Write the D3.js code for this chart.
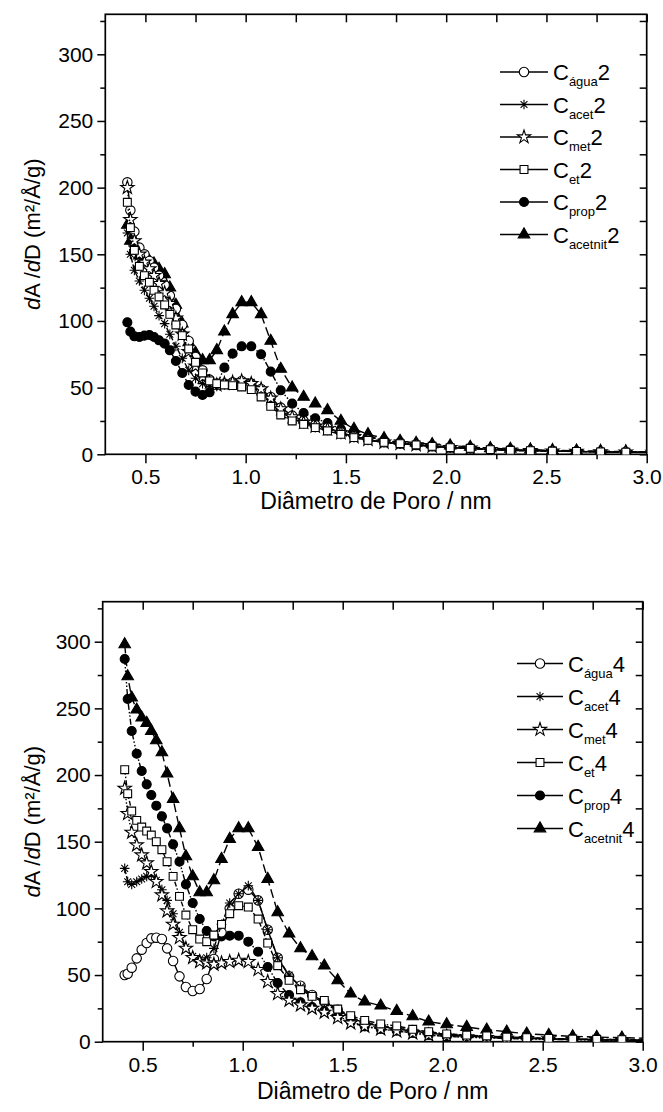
<!DOCTYPE html>
<html lang="pt">
<head>
<meta charset="utf-8">
<title>dA/dD</title>
<script src="https://d3js.org/d3.v7.min.js"></script>
<style>
  body { margin: 0; background: #fff; }
  svg { display: block; font-family: "Liberation Sans", Arial, sans-serif; }
  .axis path { display: none; }
  .axis line { stroke: #000; stroke-width: 1.5; }
  .axis text { fill: #000; font-size: 21px; }
</style>
</head>
<body>
<script>
/////////////// data ///////////////
var poreDiameter = [0.41, 0.425, 0.445, 0.47, 0.495, 0.52, 0.543, 0.568, 0.596, 0.622,
  0.652, 0.684, 0.716, 0.75, 0.785, 0.82, 0.856, 0.894, 0.935, 0.98,
  1.028, 1.077, 1.125, 1.175, 1.232, 1.289, 1.347, 1.408, 1.475, 1.54,
  1.61, 1.69, 1.77, 1.85, 1.93, 2.02, 2.12, 2.22, 2.32, 2.42,
  2.53, 2.65, 2.77, 2.896, 3.03];

// panel 1 (amostras 2)
var agua2 = [204, 183, 167, 155, 150, 145, 140, 134, 127, 119,
  109, 97, 85, 73, 63, 56, 53, 53, 54, 55,
  53, 49, 43, 35, 29, 25, 22, 20, 16.5, 13.5,
  11, 9, 8, 7, 6, 5, 4.5, 3.5, 3, 2.7,
  2.4, 2.1, 1.8, 1.6, 1.4];
var acet2 = [166, 150, 138, 130, 123, 117, 111, 104, 98, 90,
  81, 72, 63, 57, 53, 51, 51, 52, 53, 55,
  54, 49, 41, 33, 27, 23, 20, 18, 15, 12.5,
  10.5, 9, 8, 7, 6, 5, 4.5, 3.5, 3, 2.7,
  2.4, 2.1, 1.8, 1.6, 1.4];
var met2 = [200, 176, 160, 150, 144, 139, 134, 128, 121, 113,
  102, 90, 77, 66, 58, 54, 52, 53, 54, 55,
  53, 49, 42, 34, 28, 24, 21, 19, 16, 13,
  11, 9, 8, 7, 6, 5, 4.5, 3.5, 3, 2.7,
  2.4, 2.1, 1.8, 1.6, 1.4];
var et2 = [189, 170, 153, 141, 134, 129, 123, 118, 112, 105,
  97, 89, 79, 69, 61, 55, 53, 52, 51.5, 50.5,
  48.5, 43, 36, 29.5, 25, 22.5, 20, 17.5, 15, 12.5,
  10.5, 9, 8, 7, 6, 5, 4.5, 3.5, 3, 2.7,
  2.4, 2.1, 1.8, 1.6, 1.4];
var prop2 = [99, 92, 88.5, 88, 89, 89.5, 88, 85.5, 83, 78,
  70, 61, 52, 47, 44.5, 46.5, 52, 65, 75.5, 81,
  81, 75, 62, 48, 38, 31, 27, 23.5, 19, 16,
  13, 10.5, 9, 7.5, 6.5, 5.5, 4.5, 4, 3.5, 3,
  2.6, 2.3, 2, 1.8, 1.5];
var acetnit2 = [172, 160, 153, 149, 147, 145, 143, 139, 135, 125,
  112, 98, 84, 76, 70.5, 70.5, 78, 92, 105, 114,
  114, 105, 85, 64, 50, 43, 38, 33, 25, 19,
  15, 12, 10, 8.5, 7.5, 6.5, 5.5, 4.5, 4, 3.5,
  3, 2.7, 2.4, 2, 1.8];

// panel 2 (amostras 4)
var agua4 = [50, 51, 55.5, 62.5, 69, 74, 77.5, 78, 77, 70,
  60.5, 49, 41, 38, 39.5, 47, 62, 82, 100, 111,
  114, 106, 84, 63, 49, 42, 35, 30, 24, 18,
  14, 11.5, 9.5, 8, 6.5, 5, 4, 3.5, 3, 2.5,
  2, 1.8, 1.5, 1.2, 1];
var acet4 = [130, 120, 118, 120, 122, 124, 125, 121, 114, 106,
  96, 82, 71, 64, 62, 63, 70, 88, 104, 111,
  117, 106, 84, 63, 50, 41, 34, 29, 23, 18,
  14.5, 12, 10, 8.5, 7, 5.5, 4.5, 4, 3.5, 3,
  2.5, 2, 1.8, 1.5, 1.2];
var met4 = [190, 171, 157, 147.5, 140, 134, 127.5, 120, 110, 98,
  88, 78, 70, 63, 60, 59, 58, 59, 60, 61,
  60, 54, 45, 36, 31, 27.5, 25, 22, 18, 14,
  11.5, 9.5, 8, 6.5, 5, 4, 3.5, 3, 2.5, 2.2,
  2, 1.7, 1.5, 1.2, 1];
var et4 = [204, 186, 173, 166, 161, 158, 155, 150, 144, 135,
  124, 109, 95, 84, 77, 75, 80, 88, 96, 102,
  101, 92, 74, 57, 46, 39, 34, 31, 24.5, 19.5,
  16, 13.3, 11.8, 9.3, 7.5, 5.8, 5, 4.3, 3.5, 3,
  2.5, 2, 1.8, 1.5, 1.2];
var prop4 = [287, 257, 233, 216, 203, 193, 185, 177, 169, 160,
  148, 135, 118, 104, 92, 83, 79, 79, 79.5, 79.5,
  75, 67.5, 56, 44, 35, 29.5, 26, 23, 19, 15,
  11.5, 9.5, 8.3, 6.5, 5, 4, 3.3, 2.8, 2.4, 2,
  1.8, 1.5, 1.2, 1, 0.8];
var acetnit4 = [298, 274, 258, 249, 243, 239, 233, 226, 217, 201,
  182, 160, 139, 124, 112, 112, 121, 137, 152, 160,
  160, 146, 122, 97, 81, 70, 64, 57, 46, 36,
  30, 27, 23, 19, 15, 13, 11, 9, 7.5, 6,
  5, 4, 3.5, 3, 2.5];

var solventNames = ["água", "acet", "met", "et", "prop", "acetnit"];
var xTicks = [0.5, 1.0, 1.5, 2.0, 2.5, 3.0];
var xMinor = [0.75, 1.25, 1.75, 2.25, 2.75];
var yTicks = [0, 50, 100, 150, 200, 250, 300];
var yMinor = [25, 75, 125, 175, 225, 275, 325];
var xTitle = "Diâmetro de Poro / nm";

/////////////// setup ///////////////
var width = 663, height = 1112;
var svg = d3.select("body").append("svg")
  .attr("width", width)
  .attr("height", height);

// asterisk marker (8 arms)
var symbolAsterisk = {
  draw: function(ctx, size) {
    var r = Math.sqrt(size) / 2 * 1.25;
    [0, 45, 90, 135].forEach(function(a) {
      var t = a * Math.PI / 180;
      ctx.moveTo(r * Math.cos(t), r * Math.sin(t));
      ctx.lineTo(-r * Math.cos(t), -r * Math.sin(t));
    });
  }
};

var styles = {
  "água":    {type: d3.symbolCircle,   size: 70, fill: "#fff", dash: null},
  "acet":    {type: symbolAsterisk,    size: 60, fill: "none", dash: "6,2"},
  "met":     {type: d3.symbolStar,     size: 55, fill: "#fff", dash: "1.5,2"},
  "et":      {type: d3.symbolSquare,   size: 62, fill: "#fff", dash: "5,2,1.5,2"},
  "prop":    {type: d3.symbolCircle,   size: 64, fill: "#000", dash: "6,2,1.5,2,1.5,2"},
  "acetnit": {type: d3.symbolTriangle, size: 58, fill: "#000", dash: "9,4"}
};

var panels = [
  {id: "p2", suffix: "2", box: {x0: 105.3, x1: 646.7, y0: 14.3, y1: 454.3},
   series: [agua2, acet2, met2, et2, prop2, acetnit2],
   legend: {xa: 500, xb: 548, y: 72, step: 32.5},
   labelY: 486, titleY: 509},
  {id: "p4", suffix: "4", box: {x0: 102.7, x1: 642.7, y0: 601.7, y1: 1041.7},
   series: [agua4, acet4, met4, et4, prop4, acetnit4],
   legend: {xa: 517, xb: 563, y: 663.5, step: 33},
   labelY: 1074, titleY: 1099}
];

// draw order: filled first, open markers on top
var drawOrder = [5, 4, 0, 1, 2, 3];

panels.forEach(function(p) {
  var b = p.box;
  var x = d3.scaleLinear().domain([0.3, 3.0]).range([b.x0, b.x1]);
  var y = d3.scaleLinear().domain([0, 330]).range([b.y1, b.y0]);

  var g = svg.append("g");

  g.append("clipPath").attr("id", "clip-" + p.id)
    .append("rect")
    .attr("x", b.x0).attr("y", b.y0 - 10)
    .attr("width", b.x1 - b.x0).attr("height", b.y1 - b.y0 + 10);

  //============ axes
  g.append("g").attr("class", "axis")
    .attr("transform", "translate(0," + b.y1 + ")")
    .call(d3.axisBottom(x).tickValues(xTicks).tickSize(9).tickPadding(6)
      .tickFormat(d3.format(".1f")));
  g.append("g").attr("class", "axis")
    .attr("transform", "translate(0," + b.y1 + ")")
    .call(d3.axisBottom(x).tickValues(xMinor).tickSize(5).tickFormat(""));
  g.append("g").attr("class", "axis")
    .attr("transform", "translate(" + b.x0 + ",0)")
    .call(d3.axisLeft(y).tickValues(yTicks).tickSize(8).tickPadding(4));
  g.append("g").attr("class", "axis")
    .attr("transform", "translate(" + b.x0 + ",0)")
    .call(d3.axisLeft(y).tickValues(yMinor).tickSize(5).tickFormat(""));
  // mirrored ticks on top and right, pointing inside
  g.append("g").attr("class", "axis")
    .attr("transform", "translate(0," + b.y0 + ")")
    .call(d3.axisTop(x).tickValues(xTicks.concat(xMinor)).tickSize(-8).tickFormat(""));
  g.append("g").attr("class", "axis")
    .attr("transform", "translate(" + b.x1 + ",0)")
    .call(d3.axisRight(y).tickValues(yTicks.concat(yMinor)).tickSize(-7).tickFormat(""));

  g.append("rect")
    .attr("x", b.x0).attr("y", b.y0)
    .attr("width", b.x1 - b.x0).attr("height", b.y1 - b.y0)
    .attr("fill", "none").attr("stroke", "#000").attr("stroke-width", 1.7);

  //============ titles
  g.append("text")
    .attr("x", (b.x0 + b.x1) / 2).attr("y", p.titleY)
    .attr("text-anchor", "middle")
    .style("font-size", "23px")
    .text(xTitle);

  var yl = g.append("text")
    .attr("transform", "translate(40," + ((b.y0 + b.y1) / 2) + ") rotate(-90)")
    .attr("text-anchor", "middle")
    .style("font-size", "22px");
  yl.append("tspan").style("font-style", "italic").text("d");
  yl.append("tspan").text("A /");
  yl.append("tspan").style("font-style", "italic").text("d");
  yl.append("tspan").text("D (m²/Å/g)");

  //============ series
  var plot = g.append("g").attr("clip-path", "url(#clip-" + p.id + ")");
  var line = d3.line()
    .x(function(d) { return x(d[0]); })
    .y(function(d) { return y(d[1]); });

  drawOrder.forEach(function(k) {
    var name = solventNames[k];
    var st = styles[name];
    var pts = poreDiameter.map(function(v, i) { return [v, p.series[k][i]]; });
    plot.append("path")
      .datum(pts)
      .attr("d", line)
      .attr("fill", "none")
      .attr("stroke", "#000")
      .attr("stroke-width", 1.4)
      .attr("stroke-dasharray", st.dash);
    plot.selectAll(".m" + k)
      .data(pts)
      .enter().append("path")
      .attr("class", "m" + k)
      .attr("transform", function(d) { return "translate(" + x(d[0]) + "," + y(d[1]) + ")"; })
      .attr("d", d3.symbol().type(st.type).size(st.size))
      .attr("fill", st.fill)
      .attr("stroke", "#000")
      .attr("stroke-width", 1.1);
  });

  //============ legend
  var L = p.legend;
  solventNames.forEach(function(name, i) {
    var st = styles[name];
    var ly = L.y + i * L.step;
    var row = g.append("g");
    row.append("line")
      .attr("x1", L.xa).attr("x2", L.xb)
      .attr("y1", ly).attr("y2", ly)
      .attr("stroke", "#000").attr("stroke-width", 1.7);
    row.append("path")
      .attr("transform", "translate(" + ((L.xa + L.xb) / 2) + "," + ly + ")")
      .attr("d", d3.symbol().type(st.type).size(st.size))
      .attr("fill", st.fill === "none" ? "none" : st.fill)
      .attr("stroke", "#000")
      .attr("stroke-width", 1.1);
    var t = row.append("text")
      .attr("x", L.xb + 5).attr("y", ly + 8)
      .style("font-size", "22px");
    t.append("tspan").text("C");
    t.append("tspan").attr("dy", 6).style("font-size", "13px").text(name);
    t.append("tspan").attr("dy", -6).text(p.suffix);
  });
});
</script>
</body>
</html>
